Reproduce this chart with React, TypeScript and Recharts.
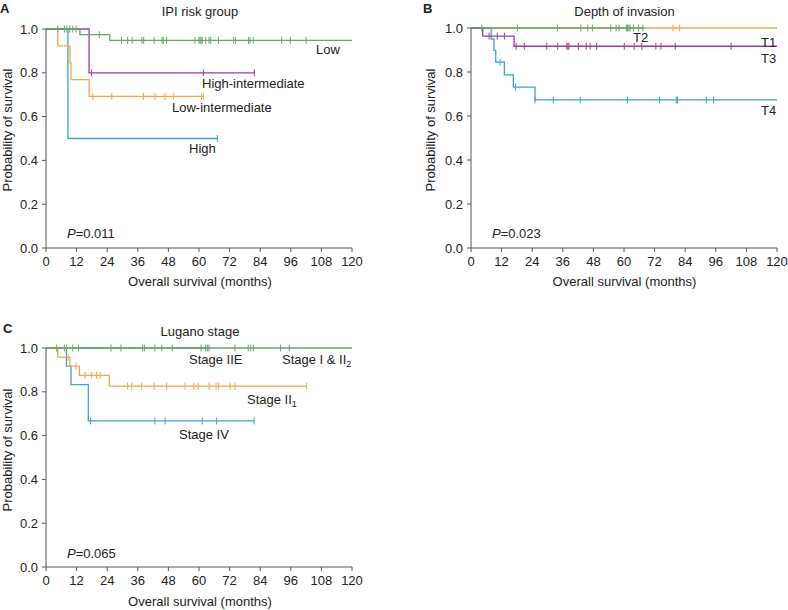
import React from "react";
import { ComposedChart, Line, Scatter, XAxis, YAxis } from "recharts";

// x ticks (months) and y ticks (probability)
const monthTicks = [0, 12, 24, 36, 48, 60, 72, 84, 96, 108, 120];
const probTicks = [0, 0.2, 0.4, 0.6, 0.8, 1.0];

// A: IPI risk group
const lowTimes = [0, 13.3, 25, 120];
const lowSurv = [1, 0.974, 0.948, 0.948];
const lowCens = [4.6, 7.2, 8.2, 9.3, 10.5, 11.8, 20.9, 29.6, 32, 33.8, 37.6, 38.3, 42.4, 45.5, 46, 47.3, 58.4, 60, 60.4, 60.8, 61.3, 62.6, 63.9, 64.6, 67.6, 73.5, 74.3, 79.4, 80, 81.3, 92.4, 95.8, 102];
const highIntTimes = [0, 16.9, 81.7];
const highIntSurv = [1, 0.8, 0.8];
const highIntCens = [17.8, 61.7, 81.7];
const lowIntTimes = [0, 4.6, 9.4, 9.8, 16.9, 61.7];
const lowIntSurv = [1, 0.923, 0.846, 0.769, 0.692, 0.692];
const lowIntCens = [18.4, 25.8, 38.2, 42.7, 46.7, 49.9, 61.0, 61.7];
const highTimes = [0, 8.6, 67.2];
const highSurv = [1, 0.5, 0.5];
const highCens = [67.2];

// B: depth of invasion
const t1Times = [0, 120];
const t1Surv = [1, 1];
const t1Cens = [79.2, 81.8];
const t2Times = [0, 68];
const t2Surv = [1, 1];
const t2Cens = [4.2, 18.2, 33.9, 43.1, 45.8, 47.6, 54.8, 56.9, 58.1, 60.9, 61.4, 61.9, 62.4, 63.7, 65.7, 67.4];
const t3Times = [0, 4.6, 16.9, 120];
const t3Surv = [1, 0.963, 0.917, 0.917];
const t3Cens = [7.1, 10.3, 13.1, 17.7, 20.9, 29.7, 34, 37.6, 38, 38.4, 42.1, 45.2, 46.7, 49.3, 60.1, 64, 67, 72.5, 74.5, 80.1, 102];
const t4Times = [0, 7.9, 9, 9.7, 13.1, 16.6, 25.1, 120];
const t4Surv = [1, 0.95, 0.898, 0.845, 0.787, 0.731, 0.673, 0.673];
const t4Cens = [11.4, 17.5, 25.1, 32.3, 42.8, 61.4, 73.9, 80.5, 81, 92.3, 95.1];

// C: Lugano stage
const st12Times = [0, 120];
const st12Surv = [1, 1];
const st12Cens = [25.5, 29.4, 37.9, 38.6, 42.7, 45.4, 49.5, 74.1, 79.3, 80.3, 81.3, 92, 95.4];
const stIIETimes = [3, 64];
const stIIESurv = [1, 1];
const stIIECens = [4.2, 7.2, 8.1, 10.5, 12.8, 60.8, 62.6, 63.3, 63.9];
const stII1Times = [0, 4.6, 9.4, 13.1, 24.8, 102.2];
const stII1Surv = [1, 0.958, 0.917, 0.875, 0.826, 0.826];
const stII1Cens = [8.7, 11.8, 15.3, 17.9, 19.9, 21.2, 32, 33.6, 37.5, 42.4, 47.3, 54.5, 58, 59.7, 64, 66.7, 67.6, 72.2, 74.1, 102.2];
const stIVTimes = [0, 8, 9.8, 16.6, 81.6];
const stIVSurv = [1, 0.917, 0.833, 0.667, 0.667];
const stIVCens = [17.5, 42.7, 46.7, 61.3, 66.9, 81.6];

const GREEN = "#63a964";
const PURPLE = "#a33a9d";
const ORANGE = "#f3a649";
const BLUE = "#3da2d2";
const AXIS = "#555";
const FONT = "'Liberation Sans', Arial, sans-serif";

const toPts = (times: number[], surv: number[]) => times.map((t, i) => ({ t, s: surv[i] }));
const survAt = (times: number[], surv: number[], t: number) => {
  let s = surv[0];
  for (let i = 0; i < times.length; i++) if (times[i] <= t) s = surv[i];
  return s;
};
const censPts = (times: number[], surv: number[], cens: number[]) =>
  cens.map((t) => ({ t, s: survAt(times, surv, t) }));

const Tick = (color: string) => (p: any) =>
  <line x1={p.cx} x2={p.cx} y1={p.cy - 3.5} y2={p.cy + 3.5} stroke={color} strokeWidth={1} />;

type Curve = { times: number[]; surv: number[]; cens: number[]; color: string };

const KMPanel = ({ curves, width, height, margin, yw }: any) => (
  <ComposedChart width={width} height={height} margin={margin}>
    <XAxis type="number" dataKey="t" domain={[0, 120]} ticks={monthTicks} interval={0}
      height={30} tickSize={4} tickMargin={5} stroke={AXIS}
      tick={{ fill: "#222", fontSize: 13, fontFamily: FONT }} allowDuplicatedCategory={false} />
    <YAxis type="number" dataKey="s" domain={[0, 1]} ticks={probTicks} interval={0}
      width={yw} tickSize={4} tickMargin={4} stroke={AXIS}
      tickFormatter={(v: number) => v.toFixed(1)}
      tick={{ fill: "#222", fontSize: 13, fontFamily: FONT }} />
    {curves.map((c: Curve, i: number) => (
      <Line key={"l" + i} data={toPts(c.times, c.surv)} dataKey="s" type="stepAfter"
        stroke={c.color} strokeWidth={1.3} dot={false} isAnimationActive={false} />
    ))}
    {curves.map((c: Curve, i: number) => (
      <Scatter key={"c" + i} data={censPts(c.times, c.surv, c.cens)} dataKey="s"
        shape={Tick(c.color)} isAnimationActive={false} />
    ))}
  </ComposedChart>
);

const curvesA: Curve[] = [
  { times: highTimes, surv: highSurv, cens: highCens, color: BLUE },
  { times: lowIntTimes, surv: lowIntSurv, cens: lowIntCens, color: ORANGE },
  { times: highIntTimes, surv: highIntSurv, cens: highIntCens, color: PURPLE },
  { times: lowTimes, surv: lowSurv, cens: lowCens, color: GREEN },
];
const curvesB: Curve[] = [
  { times: t1Times, surv: t1Surv, cens: t1Cens, color: ORANGE },
  { times: t4Times, surv: t4Surv, cens: t4Cens, color: BLUE },
  { times: t3Times, surv: t3Surv, cens: t3Cens, color: PURPLE },
  { times: t2Times, surv: t2Surv, cens: t2Cens, color: GREEN },
];
const curvesC: Curve[] = [
  { times: stIVTimes, surv: stIVSurv, cens: stIVCens, color: BLUE },
  { times: stII1Times, surv: stII1Surv, cens: stII1Cens, color: ORANGE },
  { times: st12Times, surv: st12Surv, cens: st12Cens, color: GREEN },
  { times: stIIETimes, surv: stIIESurv, cens: stIIECens, color: GREEN },
];

const txt = { fontFamily: FONT, fontSize: 13, fill: "#222" } as const;

export default function App() {
  return (
    <div style={{ position: "absolute", left: 0, top: 0, width: 788, height: 610, background: "#fff" }}>
      <div style={{ position: "absolute", left: 0, top: 0 }}>
        <KMPanel curves={curvesA} width={370} height={300} yw={46}
          margin={{ top: 29, right: 18, bottom: 22, left: 0 }} />
      </div>
      <div style={{ position: "absolute", left: 420, top: 0 }}>
        <KMPanel curves={curvesB} width={368} height={300} yw={51}
          margin={{ top: 28, right: 11, bottom: 22, left: 0 }} />
      </div>
      <div style={{ position: "absolute", left: 0, top: 300 }}>
        <KMPanel curves={curvesC} width={370} height={310} yw={46}
          margin={{ top: 48, right: 18, bottom: 13, left: 0 }} />
      </div>
      <svg width={788} height={610} style={{ position: "absolute", left: 0, top: 0, pointerEvents: "none" }}>
        {/* panel letters */}
        <text x={0} y={12.5} {...txt} fontWeight="bold" fontSize={13}>A</text>
        <text x={423} y={12.5} {...txt} fontWeight="bold" fontSize={13}>B</text>
        <text x={3} y={332.5} {...txt} fontWeight="bold" fontSize={13}>C</text>
        {/* titles */}
        <text x={200} y={16} {...txt} textAnchor="middle">IPI risk group</text>
        <text x={624.5} y={16} {...txt} textAnchor="middle">Depth of invasion</text>
        <text x={200} y={336} {...txt} textAnchor="middle">Lugano stage</text>
        {/* axis titles */}
        <text x={200} y={286} {...txt} textAnchor="middle">Overall survival (months)</text>
        <text x={624.5} y={286} {...txt} textAnchor="middle">Overall survival (months)</text>
        <text x={200} y={605.5} {...txt} textAnchor="middle">Overall survival (months)</text>
        <text transform="translate(11.5,130) rotate(-90)" {...txt} textAnchor="middle">Probability of survival</text>
        <text transform="translate(435,130) rotate(-90)" {...txt} textAnchor="middle">Probability of survival</text>
        <text transform="translate(11.5,450) rotate(-90)" {...txt} textAnchor="middle">Probability of survival</text>
        {/* A labels */}
        <text x={316} y={54} {...txt}>Low</text>
        <text x={202} y={88} {...txt}>High-intermediate</text>
        <text x={172} y={112} {...txt}>Low-intermediate</text>
        <text x={189} y={153} {...txt}>High</text>
        <text x={67} y={237.5} {...txt}><tspan fontStyle="italic">P</tspan>=0.011</text>
        {/* B labels */}
        <text x={633} y={41.5} {...txt}>T2</text>
        <text x={761} y={46.5} {...txt}>T1</text>
        <text x={761} y={62.5} {...txt}>T3</text>
        <text x={761} y={115} {...txt}>T4</text>
        <text x={492} y={237.5} {...txt}><tspan fontStyle="italic">P</tspan>=0.023</text>
        {/* C labels */}
        <text x={189} y={364} {...txt}>Stage IIE</text>
        <text x={282} y={364} {...txt}>Stage I &amp; II<tspan fontSize={9} dy={3}>2</tspan></text>
        <text x={247} y={404} {...txt}>Stage II<tspan fontSize={9} dy={3}>1</tspan></text>
        <text x={179} y={439} {...txt}>Stage IV</text>
        <text x={67} y={557.5} {...txt}><tspan fontStyle="italic">P</tspan>=0.065</text>
      </svg>
    </div>
  );
}
